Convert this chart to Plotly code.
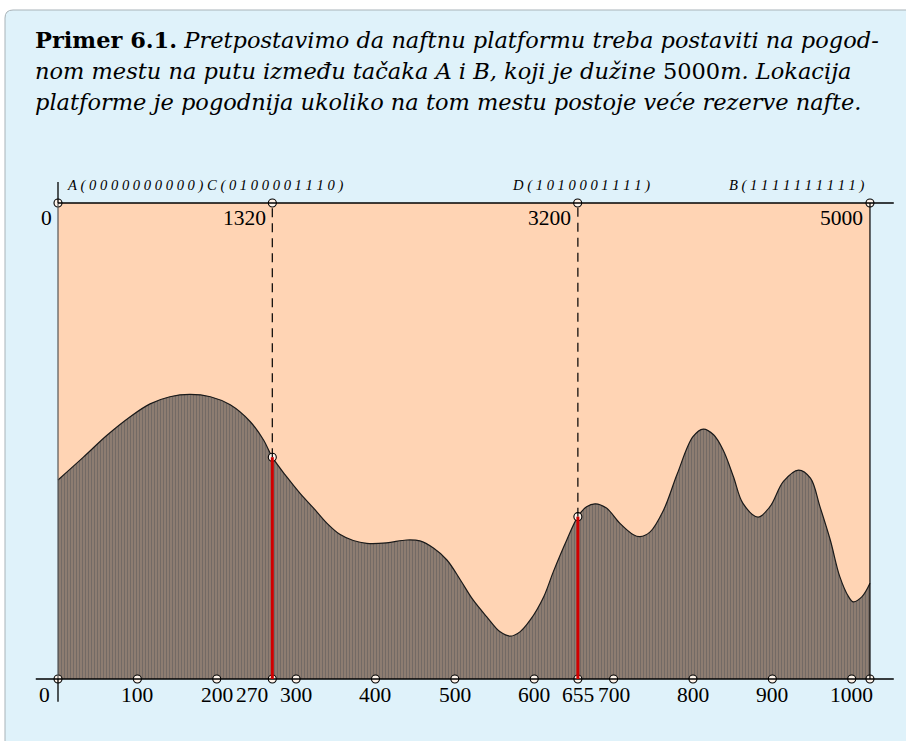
import plotly.graph_objects as go

# Položaj duž puta (kodiran sa 10 bitova, 0..1023) i procena rezervi nafte
pos = [0, 32, 61, 91, 116, 141, 166, 192, 217, 242,
       259, 270, 288, 305, 322, 339, 355, 372, 389, 414,
       439, 456, 473, 490, 507, 523, 540, 557, 570, 582,
       595, 612, 624, 641, 655, 666, 677, 691, 708, 725,
       733, 746, 763, 780, 800, 813, 826, 838, 851, 863,
       882, 897, 914, 933, 948, 960, 973, 985, 996, 1002,
       1013, 1023]
reserve = [41.8, 46.6, 51.1, 55.1, 57.8, 59.3, 59.8, 59.3, 57.6, 54.1,
           50.2, 46.6, 42.5, 39.0, 35.9, 32.7, 30.4, 29.1, 28.5, 28.6,
           29.2, 29.0, 27.5, 25.0, 20.8, 16.6, 13.1, 9.9, 9.0, 9.9,
           12.4, 17.3, 22.5, 29.2, 34.1, 36.2, 36.8, 35.9, 32.7, 30.3,
           29.9, 30.9, 35.5, 43.0, 50.9, 52.5, 51.3, 48.1, 42.5, 36.9,
           34.0, 36.2, 41.5, 43.9, 42.2, 36.2, 29.2, 21.5, 17.3, 16.2,
           17.3, 20.1]

bottom_ticks = [0, 100, 200, 270, 300, 400, 500, 600, 655, 700, 800, 900, 1000, 1023]
bottom_labels = ["0", "100", "200", "270", "300", "400", "500", "600", "655",
                 "700", "800", "900", "1000", ""]

# Gornja osa: rastojanje u metrima (0..5000 m)
road_len = 5000
max_code = 1023
top_meters = [0, 1320, 3200, 5000]
top_points = {"A": "0000000000", "C": "0100001110", "D": "1010001111", "B": "1111111111"}
chosen = [270, 655]
chosen_reserve = [reserve[pos.index(c)] for c in chosen]
top_level = 100

PEACH = "#FFD4B4"
BLUE_BG = "#DFF2FA"
SERIF = "Liberation Serif"

fig = go.Figure()

# Površina ispod krive (vertikalne pruge)
fig.add_trace(go.Scatter(
    x=pos, y=reserve, mode="lines",
    line=dict(color="#1a1a1a", width=1.2, shape="spline", smoothing=1.0),
    fill="tozeroy", fillcolor="#7a6f68",
    fillpattern=dict(shape="|", bgcolor="#9e8878", fgcolor="#474c52", size=3, solidity=0.6),
    hoverinfo="skip", showlegend=False))

shapes = []
# okvir primera
shapes.append(dict(type="path", xref="paper", yref="paper", layer="below",
                   path="M 0.00552,-0.02 L 0.00552,0.9757 Q 0.00552,0.9865 0.01435,0.9865 L 1.02,0.9865 L 1.02,-0.02 Z",
                   fillcolor=BLUE_BG, line=dict(color="#a9b3b8", width=1)))
# oblast pretrage
shapes.append(dict(type="rect", xref="x", yref="y", layer="below", x0=0, x1=max_code, y0=0, y1=top_level,
                   fillcolor=PEACH, line=dict(width=0)))
# ivice oblasti
for xv, col in [(0, "#555555"), (max_code, "#000000")]:
    shapes.append(dict(type="line", xref="x", yref="y", layer="above", x0=xv, x1=xv, y0=0, y1=top_level,
                       line=dict(color=col, width=1.2)))
# gornja i donja osa
shapes.append(dict(type="line", xref="x", yref="y", layer="above", x0=0, x1=1053, y0=top_level, y1=top_level,
                   line=dict(color="black", width=1.3)))
shapes.append(dict(type="line", xref="x", yref="y", layer="above", x0=-28, x1=1053, y0=0, y1=0,
                   line=dict(color="black", width=1.3)))
shapes.append(dict(type="line", xref="x", yref="y", layer="above", x0=0, x1=0, y0=top_level, y1=top_level + 4.4,
                   line=dict(color="black", width=1.3)))
shapes.append(dict(type="line", xref="x", yref="y", layer="above", x0=0, x1=0, y0=0, y1=-4.8,
                   line=dict(color="black", width=1.3)))
# izabrane tačke C i D
for xv, yv in zip(chosen, chosen_reserve):
    shapes.append(dict(type="line", xref="x", yref="y", layer="above", x0=xv, x1=xv, y0=yv, y1=top_level,
                       line=dict(color="black", width=1.2, dash="9px,6px")))
    shapes.append(dict(type="line", xref="x", yref="y", layer="above", x0=xv, x1=xv, y0=0, y1=yv,
                       line=dict(color="#D00000", width=3)))
fig.update_layout(shapes=shapes)

# kružići
mk = dict(symbol="circle", size=8, color="#FFF4EA", line=dict(color="black", width=1.1))
top_x = [m / road_len * max_code for m in top_meters]
fig.add_trace(go.Scatter(x=bottom_ticks, y=[0] * len(bottom_ticks), mode="markers", marker=mk,
                         hoverinfo="skip", showlegend=False, cliponaxis=False))
fig.add_trace(go.Scatter(x=top_x, y=[top_level] * len(top_x), mode="markers", marker=mk,
                         hoverinfo="skip", showlegend=False, cliponaxis=False))
fig.add_trace(go.Scatter(x=chosen, y=chosen_reserve, mode="markers", marker=mk,
                         hoverinfo="skip", showlegend=False, cliponaxis=False))

ann = []
num_font = dict(family=SERIF, size=21.5, color="black")
# donje oznake
for xv, lab in zip(bottom_ticks, bottom_labels):
    if not lab:
        continue
    if xv == 0:
        ann.append(dict(x=-17.6, y=-3.4, text=lab, showarrow=False, font=num_font, xanchor="center", yanchor="middle"))
    elif xv == 270:
        ann.append(dict(x=xv - 3, y=-3.4, text=lab, showarrow=False, font=num_font, xanchor="right", yanchor="middle"))
    else:
        ann.append(dict(x=xv, y=-3.4, text=lab, showarrow=False, font=num_font, xanchor="center", yanchor="middle"))
# gornje oznake (metri)
for m, xv in zip(top_meters, top_x):
    if m == 0:
        ann.append(dict(x=-15.1, y=96.8, text=str(m), showarrow=False, font=num_font, xanchor="center", yanchor="middle"))
    else:
        ann.append(dict(x=xv - 6, y=96.8, text=str(m), showarrow=False, font=num_font, xanchor="right", yanchor="middle"))

# binarni kodovi tačaka
SP = "\u2005"
def spaced(s):
    return SP.join(list(s))

code_font = dict(family=SERIF, size=14.6, color="black", style="italic")
ann.append(dict(x=8.8, y=103.6, text=spaced("A(" + top_points["A"] + ")C(" + top_points["C"] + ")"),
                showarrow=False, font=code_font, xanchor="left", yanchor="middle"))
ann.append(dict(x=569.5, y=103.6, text=spaced("D(" + top_points["D"] + ")"),
                showarrow=False, font=code_font, xanchor="left", yanchor="middle"))
ann.append(dict(x=843, y=103.6, text=spaced("B(" + top_points["B"] + ")"),
                showarrow=False, font=code_font, xanchor="left", yanchor="middle"))

# tekst primera
title_font = dict(family="DejaVu Serif", size=22.5, color="black")
lines = [
    "<b>Primer 6.1.</b> <i>Pretpostavimo da naftnu platformu treba postaviti na pogod-</i>",
    "<i>nom mestu na putu između tačaka A i B, koji je dužine </i>5000<i>m. Lokacija</i>",
    "<i>platforme je pogodnija ukoliko na tom mestu postoje veće rezerve nafte.</i>",
]
for i, t in enumerate(lines):
    ann.append(dict(xref="paper", yref="paper", x=33 / 906, y=1 - (40 + 31 * i) / 741, text=t,
                    showarrow=False, font=title_font, xanchor="left", yanchor="middle"))

fig.update_layout(annotations=ann)

fig.update_layout(
    width=906, height=741, autosize=False,
    margin=dict(l=0, r=0, t=0, b=0, pad=0),
    paper_bgcolor="white", plot_bgcolor="rgba(0,0,0,0)",
    xaxis=dict(range=[-73.07, 1068.4], visible=False, fixedrange=True),
    yaxis=dict(range=[-13.03, 142.65], visible=False, fixedrange=True),
    showlegend=False,
)

fig.write_html("out.html")
